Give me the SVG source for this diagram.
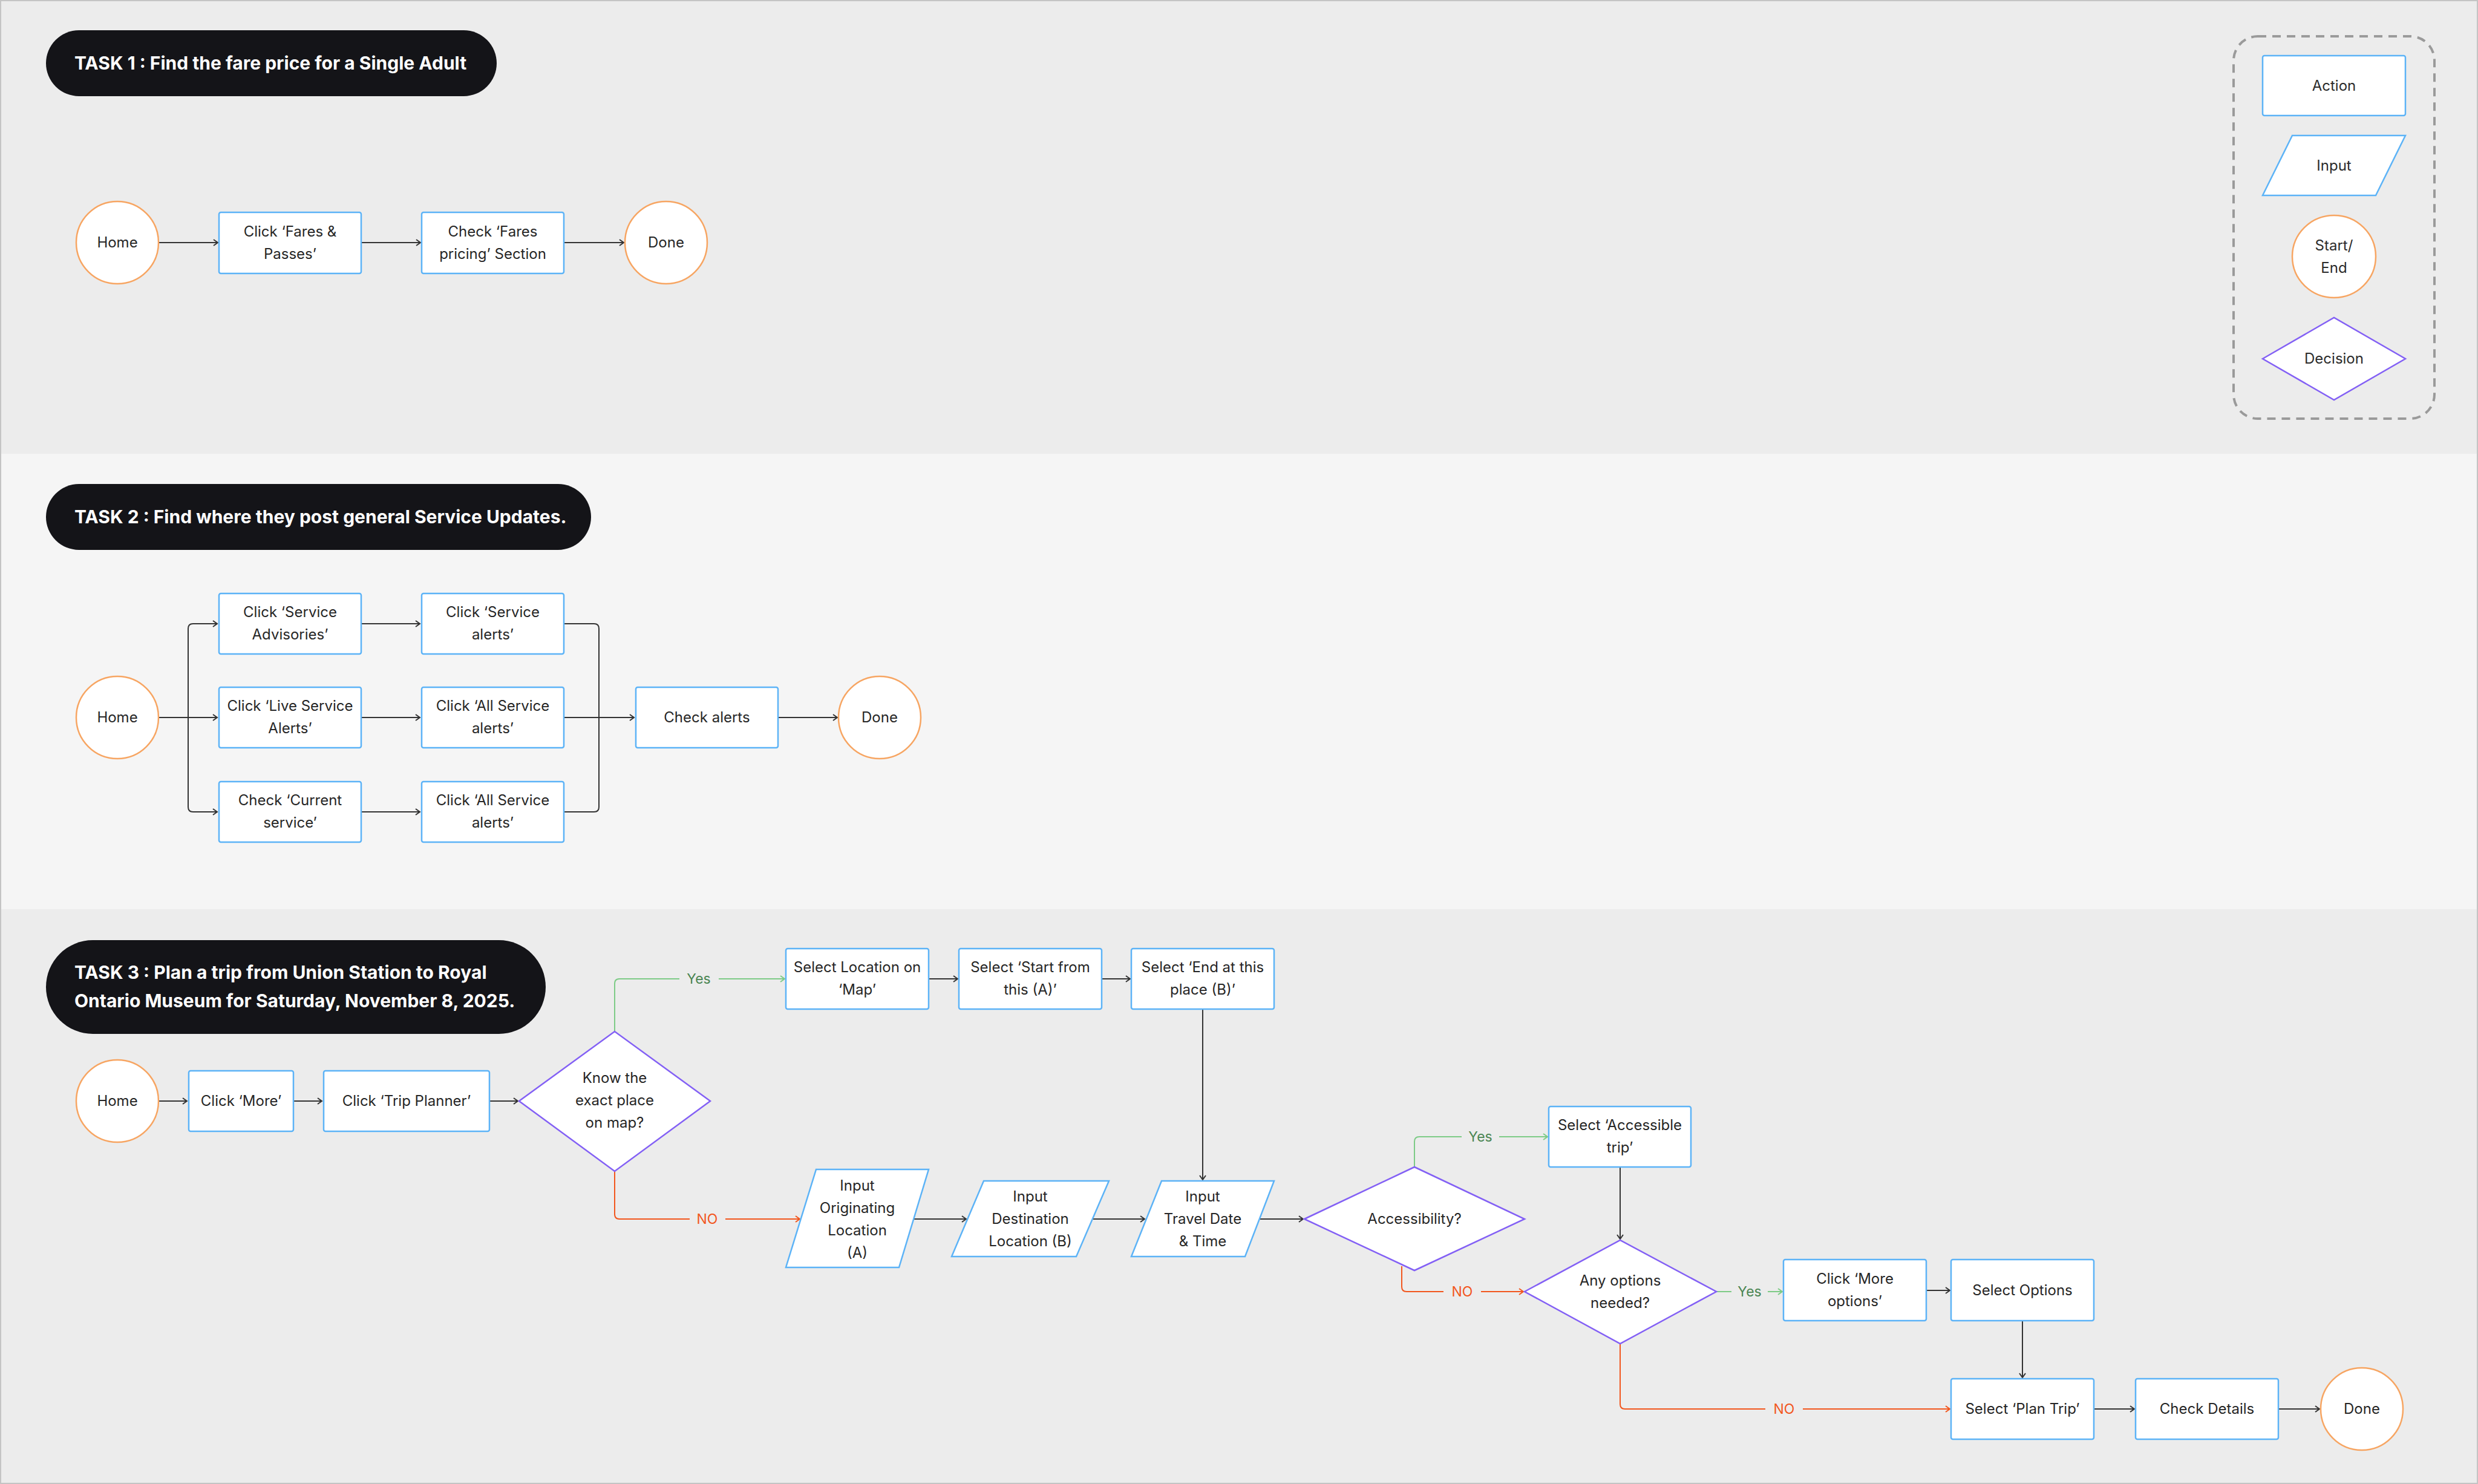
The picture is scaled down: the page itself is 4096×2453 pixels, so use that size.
<svg xmlns="http://www.w3.org/2000/svg" width="4096" height="2453" viewBox="0 0 4096 2453">
<style>
.bgA{fill:#ECECEC}
.bgB{fill:#F5F5F5}
.pill{fill:#141418}
.ttl{font-family:Inter,"Liberation Sans",sans-serif;font-weight:700;font-size:30px;fill:#FFFFFF}
.act{fill:#FFFFFF;stroke:#5CB3F7;stroke-width:2.5}
.se{fill:#FFFFFF;stroke:#F7A562;stroke-width:2.5}
.dec{fill:#FFFFFF;stroke:#8360F5;stroke-width:2.5}
.t{font-family:Inter,"Liberation Sans",sans-serif;font-size:24px;fill:#262626;text-anchor:middle}
.lg{font-family:Inter,"Liberation Sans",sans-serif;font-size:24px;fill:#2B2B2B;text-anchor:middle}
.c{fill:none;stroke:#333333;stroke-width:2;marker-end:url(#ah)}
.cy{fill:none;stroke:#7DCB86;stroke-width:2}
.cn{fill:none;stroke:#F2561D;stroke-width:2}
.ya{marker-end:url(#ahY)}
.na{marker-end:url(#ahN)}
.yl{font-family:Inter,"Liberation Sans",sans-serif;font-size:23px;fill:#4A8552;text-anchor:middle}
.nl{font-family:Inter,"Liberation Sans",sans-serif;font-size:23px;fill:#F2561D;text-anchor:middle}
</style>
<defs>
<marker id="ah" markerUnits="userSpaceOnUse" markerWidth="12" markerHeight="14" refX="8" refY="6" orient="auto"><path d="M1,1 L8,6 L1,11" fill="none" stroke="#333333" stroke-width="2"/></marker>
<marker id="ahY" markerUnits="userSpaceOnUse" markerWidth="12" markerHeight="14" refX="8" refY="6" orient="auto"><path d="M1,1 L8,6 L1,11" fill="none" stroke="#7DCB86" stroke-width="2"/></marker>
<marker id="ahN" markerUnits="userSpaceOnUse" markerWidth="12" markerHeight="14" refX="8" refY="6" orient="auto"><path d="M1,1 L8,6 L1,11" fill="none" stroke="#F2561D" stroke-width="2"/></marker>
</defs>

<g id="sections">
<rect class="bgA" x="0" y="0" width="4096" height="750"/>
<rect class="bgB" x="0" y="750" width="4096" height="753"/>
<rect class="bgA" x="0" y="1503" width="4096" height="950"/>
<rect x="1" y="1" width="4094" height="2451" fill="none" stroke="#C4C4C4" stroke-width="2"/>
</g>

<g id="titles">
<g id="task1-title"><rect class="pill" x="76" y="50" width="745" height="109" rx="54.5"/><text class="ttl" x="123" y="115">TASK 1 : Find the fare price for a Single Adult</text></g>
<g id="task2-title"><rect class="pill" x="76" y="800" width="901" height="109" rx="54.5"/><text class="ttl" x="123" y="865">TASK 2 : Find where they post general Service Updates.</text></g>
<g id="task3-title"><rect class="pill" x="76" y="1554" width="826" height="155" rx="77.5"/><text class="ttl" x="123" y="1618">TASK 3 : Plan a trip from Union Station to Royal</text><text class="ttl" x="123" y="1665">Ontario Museum for Saturday, November 8, 2025.</text></g>
</g>

<g id="legend">
<rect x="3692" y="60" width="332" height="632" rx="40" fill="none" stroke="#9A9A9A" stroke-width="4" stroke-dasharray="14 10"/>
<g id="lg-action"><rect class="act" x="3740" y="92" width="236" height="99" rx="3"/><text class="lg" x="3858" y="150">Action</text></g>
<g id="lg-input"><polygon class="act" points="3789,224 3976,224 3927,323 3740,323"/><text class="lg" x="3858" y="282">Input</text></g>
<g id="lg-startend"><ellipse class="se" cx="3858" cy="424" rx="69" ry="68"/><text class="lg" x="3858" y="414">Start/</text><text class="lg" x="3858" y="451">End</text></g>
<g id="lg-decision"><polygon class="dec" points="3740,593 3858,525 3976,593 3858,661"/><text class="lg" x="3858" y="601">Decision</text></g>
</g>

<g id="connectors">
<!-- Task 1 -->
<path class="c" d="M262,401 H360"/>
<path class="c" d="M597,401 H695"/>
<path class="c" d="M932,401 H1031"/>
<!-- Task 2 -->
<path class="c" d="M262,1186 H359"/>
<path class="c" d="M311,1186 V1039 Q311,1031 319,1031 H359"/>
<path class="c" d="M311,1186 V1334 Q311,1342 319,1342 H359"/>
<path class="c" d="M597,1031 H694"/>
<path class="c" d="M597,1186 H694"/>
<path class="c" d="M597,1342 H694"/>
<path fill="none" stroke="#333333" stroke-width="2" d="M932,1031 H982 Q990,1031 990,1039 V1186"/>
<path fill="none" stroke="#333333" stroke-width="2" d="M932,1342 H982 Q990,1342 990,1334 V1186"/>
<path class="c" d="M932,1186 H1048"/>
<path class="c" d="M1286,1186 H1384"/>
<!-- Task 3 -->
<path class="c" d="M262,1820 H309"/>
<path class="c" d="M485,1820 H532"/>
<path class="c" d="M809,1820 H856"/>
<path class="cy" d="M1016,1705 V1626 Q1016,1618 1024,1618 H1123"/>
<path class="cy ya" d="M1188,1618 H1297"/>
<path class="cn" d="M1016,1936 V2007 Q1016,2015 1024,2015 H1140"/>
<path class="cn na" d="M1199,2015 H1322"/>
<path class="c" d="M1535,1618 H1583"/>
<path class="c" d="M1821,1618 H1868"/>
<path class="c" d="M1988,1668 V1950"/>
<path class="c" d="M1510,2015 H1597"/>
<path class="c" d="M1806,2015 H1892"/>
<path class="c" d="M2082,2015 H2154"/>
<path class="cy" d="M2338,1929 V1887 Q2338,1879 2346,1879 H2416"/>
<path class="cy ya" d="M2478,1879 H2558"/>
<path class="c" d="M2678,1929 V2048"/>
<path class="cn" d="M2317,2093 V2127 Q2317,2135 2325,2135 H2386"/>
<path class="cn na" d="M2448,2135 H2518"/>
<path class="cy" d="M2837,2135 H2862"/>
<path class="cy ya" d="M2922,2135 H2946"/>
<path class="c" d="M3184,2133 H3223"/>
<path class="c" d="M3343,2183 V2277"/>
<path class="cn" d="M2678,2221 V2321 Q2678,2329 2686,2329 H2918"/>
<path class="cn na" d="M2980,2329 H3223"/>
<path class="c" d="M3461,2329 H3528"/>
<path class="c" d="M3766,2329 H3834"/>
<text class="yl" x="1155" y="1626">Yes</text>
<text class="nl" x="1169" y="2023">NO</text>
<text class="yl" x="2447" y="1887">Yes</text>
<text class="nl" x="2417" y="2143">NO</text>
<text class="yl" x="2892" y="2143">Yes</text>
<text class="nl" x="2949" y="2337">NO</text>
</g>

<g id="task1-nodes">
<g id="t1-home"><circle class="se" cx="194" cy="401" r="68"/><text class="t" x="194" y="409">Home</text></g>
<g id="t1-fares"><rect class="act" x="362" y="351" width="235" height="101" rx="3"/><text class="t" x="479.5" y="391">Click ‘Fares &amp;</text><text class="t" x="479.5" y="428">Passes’</text></g>
<g id="t1-pricing"><rect class="act" x="697" y="351" width="235" height="101" rx="3"/><text class="t" x="814.5" y="391">Check ‘Fares</text><text class="t" x="814.5" y="428">pricing’ Section</text></g>
<g id="t1-done"><circle class="se" cx="1101" cy="401" r="68"/><text class="t" x="1101" y="409">Done</text></g>
</g>

<g id="task2-nodes">
<g id="t2-home"><circle class="se" cx="194" cy="1186" r="68"/><text class="t" x="194" y="1194">Home</text></g>
<g id="t2-advisories"><rect class="act" x="362" y="981" width="235" height="100" rx="3"/><text class="t" x="479.5" y="1020">Click ‘Service</text><text class="t" x="479.5" y="1057">Advisories’</text></g>
<g id="t2-live"><rect class="act" x="362" y="1136" width="235" height="100" rx="3"/><text class="t" x="479.5" y="1175">Click ‘Live Service</text><text class="t" x="479.5" y="1212">Alerts’</text></g>
<g id="t2-current"><rect class="act" x="362" y="1292" width="235" height="100" rx="3"/><text class="t" x="479.5" y="1331">Check ‘Current</text><text class="t" x="479.5" y="1368">service’</text></g>
<g id="t2-svc-alerts"><rect class="act" x="697" y="981" width="235" height="100" rx="3"/><text class="t" x="814.5" y="1020">Click ‘Service</text><text class="t" x="814.5" y="1057">alerts’</text></g>
<g id="t2-all1"><rect class="act" x="697" y="1136" width="235" height="100" rx="3"/><text class="t" x="814.5" y="1175">Click ‘All Service</text><text class="t" x="814.5" y="1212">alerts’</text></g>
<g id="t2-all2"><rect class="act" x="697" y="1292" width="235" height="100" rx="3"/><text class="t" x="814.5" y="1331">Click ‘All Service</text><text class="t" x="814.5" y="1368">alerts’</text></g>
<g id="t2-check"><rect class="act" x="1051" y="1136" width="235" height="100" rx="3"/><text class="t" x="1168.5" y="1194">Check alerts</text></g>
<g id="t2-done"><circle class="se" cx="1454" cy="1186" r="68"/><text class="t" x="1454" y="1194">Done</text></g>
</g>

<g id="task3-nodes">
<g id="t3-home"><circle class="se" cx="194" cy="1820" r="68"/><text class="t" x="194" y="1828">Home</text></g>
<g id="t3-more"><rect class="act" x="312" y="1770" width="173" height="100" rx="3"/><text class="t" x="398.5" y="1828">Click ‘More’</text></g>
<g id="t3-planner"><rect class="act" x="535" y="1770" width="274" height="100" rx="3"/><text class="t" x="672" y="1828">Click ‘Trip Planner’</text></g>
<g id="t3-know"><polygon class="dec" points="858,1820 1016,1705 1174,1820 1016,1936"/><text class="t" x="1016" y="1790">Know the</text><text class="t" x="1016" y="1827">exact place</text><text class="t" x="1016" y="1864">on map?</text></g>
<g id="t3-selmap"><rect class="act" x="1299" y="1568" width="236" height="100" rx="3"/><text class="t" x="1417" y="1607">Select Location on</text><text class="t" x="1417" y="1644">‘Map’</text></g>
<g id="t3-start"><rect class="act" x="1585" y="1568" width="236" height="100" rx="3"/><text class="t" x="1703" y="1607">Select ‘Start from</text><text class="t" x="1703" y="1644">this (A)’</text></g>
<g id="t3-end"><rect class="act" x="1870" y="1568" width="236" height="100" rx="3"/><text class="t" x="1988" y="1607">Select ‘End at this</text><text class="t" x="1988" y="1644">place (B)’</text></g>
<g id="t3-orig"><polygon class="act" points="1349,1933 1535,1933 1486,2095 1299,2095"/><text class="t" x="1417" y="1968">Input</text><text class="t" x="1417" y="2005">Originating</text><text class="t" x="1417" y="2042">Location</text><text class="t" x="1417" y="2079">(A)</text></g>
<g id="t3-dest"><polygon class="act" points="1626,1952 1833,1952 1779,2077 1573,2077"/><text class="t" x="1703" y="1986">Input</text><text class="t" x="1703" y="2023">Destination</text><text class="t" x="1703" y="2060">Location (B)</text></g>
<g id="t3-travel"><polygon class="act" points="1920,1952 2106,1952 2058,2077 1870,2077"/><text class="t" x="1988" y="1986">Input</text><text class="t" x="1988" y="2023">Travel Date</text><text class="t" x="1988" y="2060">&amp; Time</text></g>
<g id="t3-access"><polygon class="dec" points="2156,2015 2338,1929 2520,2015 2338,2100"/><text class="t" x="2338" y="2023">Accessibility?</text></g>
<g id="t3-acctrip"><rect class="act" x="2560" y="1829" width="235" height="100" rx="3"/><text class="t" x="2677.5" y="1868">Select ‘Accessible</text><text class="t" x="2677.5" y="1905">trip’</text></g>
<g id="t3-options"><polygon class="dec" points="2520,2135 2678,2050 2837,2135 2678,2221"/><text class="t" x="2678" y="2125">Any options</text><text class="t" x="2678" y="2162">needed?</text></g>
<g id="t3-moreopt"><rect class="act" x="2948" y="2082" width="236" height="101" rx="3"/><text class="t" x="3066" y="2122">Click ‘More</text><text class="t" x="3066" y="2159">options’</text></g>
<g id="t3-selopt"><rect class="act" x="3225" y="2082" width="236" height="101" rx="3"/><text class="t" x="3343" y="2141">Select Options</text></g>
<g id="t3-plantrip"><rect class="act" x="3225" y="2279" width="236" height="100" rx="3"/><text class="t" x="3343" y="2337">Select ‘Plan Trip’</text></g>
<g id="t3-details"><rect class="act" x="3530" y="2279" width="236" height="100" rx="3"/><text class="t" x="3648" y="2337">Check Details</text></g>
<g id="t3-done"><circle class="se" cx="3904" cy="2329" r="68"/><text class="t" x="3904" y="2337">Done</text></g>
</g>
</svg>
